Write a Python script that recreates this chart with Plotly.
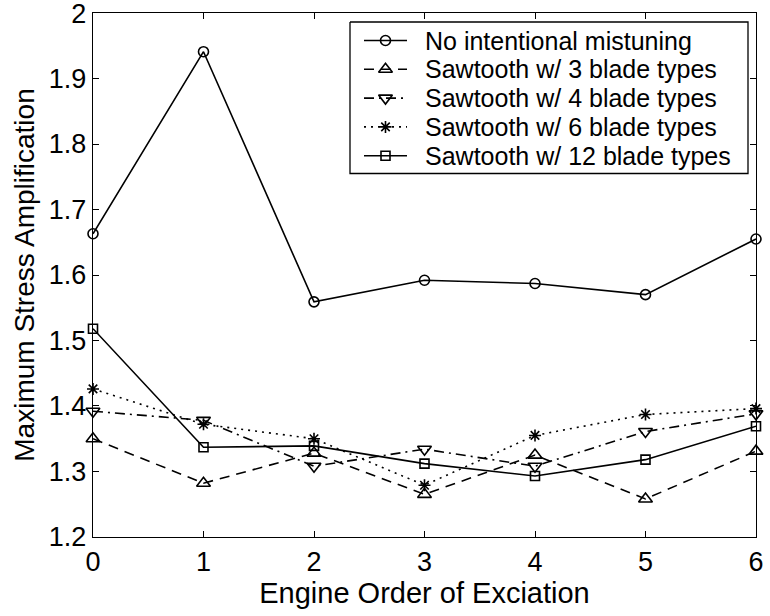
import plotly.graph_objects as go

# Engine order of excitation
engine_order = [0, 1, 2, 3, 4, 5, 6]

# Maximum stress amplification for each mistuning pattern
no_mistuning = [1.663, 1.941, 1.559, 1.592, 1.587, 1.570, 1.655]
saw_3 = [1.350, 1.282, 1.328, 1.265, 1.325, 1.258, 1.331]
saw_4 = [1.392, 1.378, 1.308, 1.334, 1.308, 1.361, 1.388]
saw_6 = [1.426, 1.372, 1.350, 1.279, 1.355, 1.387, 1.396]
saw_12 = [1.518, 1.337, 1.339, 1.312, 1.293, 1.318, 1.369]

y_ticks = [1.2, 1.3, 1.4, 1.5, 1.6, 1.7, 1.8, 1.9, 2.0]
y_tick_text = ["1.2", "1.3", "1.4", "1.5", "1.6", "1.7", "1.8", "1.9", "2"]

series = [
    ("No intentional mistuning", no_mistuning, "solid", "circle-open", 10),
    ("Sawtooth w/ 3 blade types", saw_3, "10px,7px", "triangle-up-open", 12),
    ("Sawtooth w/ 4 blade types", saw_4, "10px,5px,2px,5px", "triangle-down-open", 12),
    ("Sawtooth w/ 6 blade types", saw_6, "2px,5px", "asterisk-open", 10),
    ("Sawtooth w/ 12 blade types", saw_12, "solid", "square-open", 9),
]

FONT = "Liberation Sans, Arial, Helvetica, sans-serif"
LW = 1.6

# plot area in pixels (figure 770 x 616)
PX_L, PX_R, PX_T, PX_B = 93, 756, 13, 537

fig = go.Figure()
for name, vals, dash, symbol, size in series:
    fig.add_trace(go.Scatter(
        x=engine_order, y=vals, name=name, mode="lines+markers",
        line=dict(color="black", width=LW, dash=dash),
        marker=dict(symbol=symbol, size=size, color="black",
                    line=dict(color="black", width=LW)),
        cliponaxis=False, showlegend=False,
    ))

# Boxed legend drawn on a pixel-unit overlay axis so that row spacing is exact
LEG_L, LEG_R, LEG_T, LEG_B = 350, 748, 22, 173.5
ROW0, ROW_STEP = 40.5, 28.8
SAMPLE_X0, SAMPLE_X1, TEXT_X = 364, 407, 423

fig.add_trace(go.Scatter(
    x=[LEG_L, LEG_R, LEG_R, LEG_L, LEG_L], y=[LEG_T, LEG_T, LEG_B, LEG_B, LEG_T],
    xaxis="x2", yaxis="y2", mode="lines", fill="toself", fillcolor="white",
    line=dict(color="black", width=1.3), showlegend=False, hoverinfo="skip",
))
for i, (name, vals, dash, symbol, size) in enumerate(series):
    ry = ROW0 + i * ROW_STEP
    fig.add_trace(go.Scatter(
        x=[SAMPLE_X0, SAMPLE_X1], y=[ry, ry], xaxis="x2", yaxis="y2", mode="lines",
        line=dict(color="black", width=LW, dash=dash), showlegend=False, hoverinfo="skip",
    ))
    fig.add_trace(go.Scatter(
        x=[(SAMPLE_X0 + SAMPLE_X1) / 2], y=[ry], xaxis="x2", yaxis="y2", mode="markers",
        marker=dict(symbol=symbol, size=size, color="black", line=dict(color="black", width=LW)),
        showlegend=False, hoverinfo="skip",
    ))
    fig.add_annotation(x=TEXT_X, y=ry, xref="x2", yref="y2", text=name, showarrow=False,
                       xanchor="left", yanchor="middle",
                       font=dict(family=FONT, size=25, color="black"))

axis_common = dict(
    showgrid=False, zeroline=False, showline=True, linecolor="black",
    linewidth=1.4, mirror="ticks", ticks="inside", ticklen=6,
    tickcolor="black", tickwidth=1, ticklabeloverflow="allow", automargin=False,
    tickfont=dict(family=FONT, size=27, color="black"),
)

fig.update_xaxes(range=[0, 6], dtick=1, title=dict(text="Engine Order of Exciation",
                 font=dict(family=FONT, size=29, color="black"), standoff=4),
                 **axis_common)
fig.update_yaxes(range=[1.1999, 2.0001], tickvals=y_ticks, ticktext=y_tick_text,
                 title=dict(text="Maximum Stress Amplification",
                            font=dict(family=FONT, size=28, color="black"), standoff=6),
                 **axis_common)

fig.update_layout(
    width=770, height=616,
    margin=dict(l=PX_L, r=770 - PX_R, t=PX_T, b=616 - PX_B, autoexpand=False),
    paper_bgcolor="white", plot_bgcolor="white",
    font=dict(family=FONT, color="black"),
    xaxis2=dict(overlaying="x", anchor="y2", range=[PX_L, PX_R], visible=False, fixedrange=True),
    yaxis2=dict(overlaying="y", anchor="x2", range=[PX_B, PX_T], visible=False, fixedrange=True),
    showlegend=False,
)

fig.write_html("out.html")
